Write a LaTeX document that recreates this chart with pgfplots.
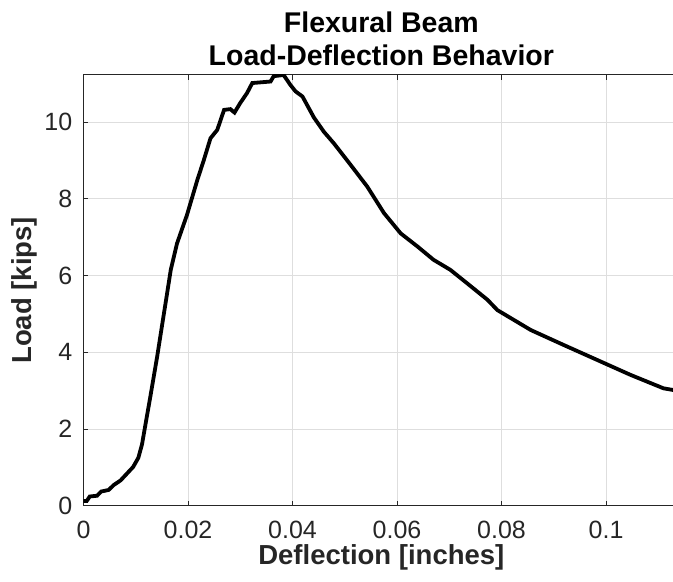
\documentclass[border=0pt]{standalone}
\usepackage{fontspec}
\setmainfont{Liberation Sans}
\usepackage{pgfplots}
\pgfplotsset{compat=1.18}

\definecolor{axisgray}{RGB}{38,38,38}
\definecolor{gridgray}{RGB}{222,222,222}

\begin{document}
\begin{tikzpicture}
\useasboundingbox (0,0) rectangle (673bp,582bp);
\begin{axis}[
    at={(83.5bp,76.3bp)}, anchor=south west,
    scale only axis, width=595.7bp, height=430.7bp,
    xmin=0, xmax=0.114, ymin=0, ymax=11.23,
    xtick={0,0.02,0.04,0.06,0.08,0.1},
    xticklabels={0,0.02,0.04,0.06,0.08,0.1},
    ytick={0,2,4,6,8,10},
    /pgf/number format/assume math mode=true,
    tick align=inside,
    major tick length=5bp,
    tick style={axisgray, line width=0.9bp},
    axis line style={axisgray, line width=1bp},
    grid=major,
    grid style={gridgray, line width=0.9bp},
    ticklabel style={font=\fontsize{25bp}{30bp}\selectfont, text=axisgray, inner sep=0pt},
    xticklabel style={yshift=-15bp},
    yticklabel style={xshift=-11bp},
    xlabel={Deflection [inches]},
    ylabel={Load [kips]},
    label style={font=\bfseries\fontsize{27.5bp}{33bp}\selectfont, text=axisgray},
    xlabel style={at={(axis description cs:0.5,-0.136)}, anchor=base, inner sep=0pt},
    ylabel style={at={(axis description cs:-0.0985,0.5)}, anchor=center},
    title={Flexural Beam\\Load-Deflection Behavior},
    title style={font=\bfseries\fontsize{28.5bp}{33.5bp}\selectfont, align=center,
        at={(axis description cs:0.5,1)}, anchor=south, inner sep=0pt, yshift=3bp},
]
\addplot[black, line width=3.8bp] table {
x y
0 0.12
0.0006 0.12
0.0012 0.24
0.0026 0.26
0.0034 0.37
0.0048 0.41
0.0058 0.54
0.0071 0.66
0.0084 0.85
0.0095 1.01
0.0105 1.25
0.0112 1.6
0.0119 2.15
0.0128 2.85
0.0141 3.89
0.0151 4.76
0.0159 5.45
0.0167 6.15
0.0179 6.84
0.0198 7.58
0.0218 8.5
0.0230 9.0
0.0243 9.58
0.0256 9.8
0.0269 10.32
0.0281 10.34
0.0289 10.25
0.0300 10.5
0.0313 10.76
0.0323 11.02
0.0358 11.06
0.0364 11.2
0.0383 11.23
0.0396 10.97
0.0406 10.8
0.0419 10.67
0.0441 10.12
0.0460 9.75
0.0479 9.45
0.0511 8.89
0.0543 8.32
0.0575 7.63
0.0607 7.1
0.0639 6.76
0.0670 6.41
0.0702 6.15
0.0734 5.8
0.0773 5.37
0.0792 5.1
0.0856 4.58
0.0919 4.19
0.0983 3.8
0.1047 3.41
0.1110 3.06
0.1140 2.99
};
\end{axis}
\end{tikzpicture}
\end{document}
